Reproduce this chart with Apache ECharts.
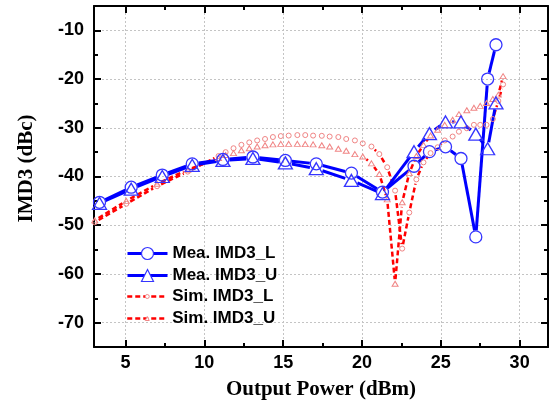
<!DOCTYPE html>
<html><head><meta charset="utf-8">
<script src="https://cdn.jsdelivr.net/npm/echarts@6/dist/echarts.min.js"></script>
<style>html,body{margin:0;padding:0;background:#fff}#c{width:552px;height:409px}</style>
</head><body><div id="c"></div>
<script>
// ---- data ----
const meaX = [3.35, 5.36, 7.33, 9.23, 11.18, 13.08, 15.14, 17.1, 19.33, 21.3, 23.3, 24.28, 25.3, 26.28, 27.22, 27.97, 28.5];
const meaL = [-45.3, -42.2, -39.7, -37.4, -36.5, -36.0, -36.7, -37.4, -39.3, -43.2, -37.9, -34.9, -33.9, -36.3, -52.4, -20.0, -12.95];
const meaU = [-45.5, -42.6, -40.0, -37.7, -36.7, -36.3, -37.2, -38.4, -40.8, -43.5, -34.9, -31.2, -28.8, -28.8, -31.3, -34.3, -24.9];
const simX = [3.05, 5.05, 7.0, 8.95, 10.9, 11.35, 11.85, 12.35, 12.85, 13.35, 13.85, 14.35, 14.85, 15.35, 15.9, 16.4, 16.9, 17.45, 17.95, 18.5, 19.0, 19.55, 20.05, 20.6, 21.1, 21.6, 22.1, 22.55, 23.0, 23.45, 23.9, 24.35, 24.8, 25.25, 25.75, 26.15, 26.65, 27.1, 27.5, 27.9, 28.3, 28.65, 28.95];
const simL = [-49.4, -45.6, -42.0, -39.0, -35.8, -35.0, -34.2, -33.5, -33.0, -32.6, -32.3, -31.9, -31.7, -31.6, -31.5, -31.5, -31.6, -31.65, -31.8, -31.9, -32.3, -32.6, -33.2, -33.85, -35.4, -38.1, -42.9, -54.8, -47.4, -40.6, -37.1, -35.2, -34.0, -32.6, -31.8, -30.8, -30.1, -29.4, -29.4, -29.4, -28.2, -24.5, -21.1];
const simU = [-49.0, -45.0, -41.5, -38.6, -36.2, -35.6, -35.2, -34.6, -34.2, -33.85, -33.6, -33.4, -33.3, -33.3, -33.3, -33.35, -33.4, -33.6, -33.85, -34.3, -34.7, -35.4, -35.9, -37.3, -39.5, -44.7, -62.0, -45.3, -39.3, -35.8, -33.5, -31.6, -30.4, -29.4, -28.35, -27.2, -26.4, -25.9, -25.5, -24.9, -24.1, -23.2, -19.4];
const xMajorTicks = [5, 10, 15, 20, 25, 30];
const xMinorTicks = [7.5, 12.5, 17.5, 22.5, 27.5];
const yMajorTicks = [-70, -60, -50, -40, -30, -20, -10];
const yMinorTicks = [-65, -55, -45, -35, -25, -15];
const seriesNames = ['Mea. IMD3_L', 'Mea. IMD3_U', 'Sim. IMD3_L', 'Sim. IMD3_U'];

// ---- styles ----
const BLUE = '#0000ff', BLUE_SYM = '#3535ff', RED = '#ff0000', PINK = '#f08585';
const X_MIN = 3, X_MAX = 31.8, Y_MIN = -75, Y_MAX = -5;
const tickFont = {color: '#000', fontFamily: 'Liberation Sans', fontWeight: 'bold', fontSize: 18};
const titleFont = {color: '#000', fontFamily: 'Liberation Serif', fontWeight: 'bold', fontSize: 21};
const legendFont = {color: '#000', fontFamily: 'Liberation Sans', fontWeight: 'bold', fontSize: 17, lineHeight: 17};
const axLine = {show: true, onZero: false, lineStyle: {color: '#000', width: 2}};
const tickStyle = {color: '#000', width: 2};

function pairs(xs, ys) { return xs.map((x, i) => [x, ys[i]]); }

// line drawn with a gap around each symbol
function gapLine(name, xs, ys, gap, stroke, width, dash) {
  const data = pairs(xs, ys);
  return {
    type: 'custom', name: name, data: data, clip: true, silent: true, z: 2,
    encode: {x: 0, y: 1},
    renderItem: function (params, api) {
      const i = params.dataIndex;
      if (i >= data.length - 1) return null;
      const p0 = api.coord([api.value(0), api.value(1)]);
      const p1 = api.coord(data[i + 1]);
      const dx = p1[0] - p0[0], dy = p1[1] - p0[1];
      const len = Math.sqrt(dx * dx + dy * dy);
      if (len <= 2 * gap + 0.5) return null;
      const ux = dx / len, uy = dy / len;
      return {
        type: 'line',
        shape: {x1: p0[0] + ux * gap, y1: p0[1] + uy * gap, x2: p1[0] - ux * gap, y2: p1[1] - uy * gap},
        style: {stroke: stroke, lineWidth: width, lineDash: dash, fill: null}
      };
    }
  };
}

function markSeries(name, xs, ys, symbol, size, border, bw) {
  return {
    type: 'line', name: name, data: pairs(xs, ys), z: 3,
    symbol: symbol, symbolSize: size, showSymbol: true,
    lineStyle: {opacity: 0, width: 0},
    itemStyle: {color: 'rgba(255,255,255,0)', borderColor: border, borderWidth: bw},
    emphasis: {disabled: true}
  };
}

function xAx(pos, ticks, len, major) {
  return {
    type: 'value', position: pos, min: X_MIN, max: X_MAX,
    axisLine: major ? axLine : {show: false},
    axisTick: {show: true, inside: true, length: len, lineStyle: tickStyle, customValues: ticks},
    axisLabel: (major && pos === 'bottom') ? Object.assign({customValues: ticks, margin: 7}, tickFont) : {show: false},
    splitLine: {show: false},
    name: (major && pos === 'bottom') ? 'Output Power (dBm)' : '',
    nameLocation: 'middle', nameGap: 32, nameTextStyle: titleFont
  };
}
function yAx(pos, ticks, len, major) {
  return {
    type: 'value', position: pos, min: Y_MIN, max: Y_MAX,
    axisLine: major ? axLine : {show: false},
    axisTick: {show: true, inside: true, length: len, lineStyle: tickStyle, customValues: ticks},
    axisLabel: (major && pos === 'left') ? Object.assign({customValues: ticks, margin: 10}, tickFont) : {show: false},
    splitLine: {show: false},
    name: (major && pos === 'left') ? 'IMD3 (dBc)' : '',
    nameLocation: 'middle', nameGap: 57, nameTextStyle: Object.assign({padding: [0, 0, 0, 16]}, titleFont)
  };
}

// dotted grid at the major ticks
const gridSeries = {
  type: 'line', name: 'grid', data: [], z: 0, silent: true,
  markLine: {
    z: 0, silent: true, symbol: 'none', animation: false,
    label: {show: false},
    lineStyle: {color: '#c4c4c4', width: 1, type: [2, 2]},
    emphasis: {disabled: true},
    data: xMajorTicks.map(v => ({xAxis: v})).concat(yMajorTicks.map(v => ({yAxis: v})))
  }
};

const chart = echarts.init(document.getElementById('c'), null, {renderer: 'canvas'});
chart.setOption({
  animation: false,
  backgroundColor: '#fff',
  grid: {left: 94, right: 4, top: 6, bottom: 62, containLabel: false},
  xAxis: [xAx('bottom', xMajorTicks, 7, true), xAx('bottom', xMinorTicks, 4, false),
          xAx('top', xMajorTicks, 7, true), xAx('top', xMinorTicks, 4, false)],
  yAxis: [yAx('left', yMajorTicks, 7, true), yAx('left', yMinorTicks, 4, false),
          yAx('right', yMajorTicks, 7, true), yAx('right', yMinorTicks, 4, false)],
  legend: [
    {
      orient: 'vertical', left: 126, top: 245, padding: 0, itemGap: 5, itemWidth: 40, itemHeight: 15, z: 10,
      textStyle: legendFont, selectedMode: false,
      data: [
        {name: seriesNames[0], itemStyle: {color: '#fff', borderColor: BLUE_SYM, borderWidth: 1.2}, lineStyle: {color: BLUE, width: 3, opacity: 1, type: 'solid'}},
        {name: seriesNames[1], itemStyle: {color: '#fff', borderColor: BLUE_SYM, borderWidth: 1.2}, lineStyle: {color: BLUE, width: 3, opacity: 1, type: 'solid'}}
      ]
    },
    {
      orient: 'vertical', left: 126, top: 288, padding: 0, itemGap: 5, itemWidth: 40, itemHeight: 5, z: 10,
      textStyle: legendFont, selectedMode: false,
      data: [
        {name: seriesNames[2], itemStyle: {color: '#fff', borderColor: PINK, borderWidth: 1}, lineStyle: {color: RED, width: 2.5, opacity: 1, type: [5, 3]}},
        {name: seriesNames[3], itemStyle: {color: '#fff', borderColor: PINK, borderWidth: 1}, lineStyle: {color: RED, width: 2.5, opacity: 1, type: [5, 3]}}
      ]
    }
  ],
  series: [
    gridSeries,
    gapLine('simL_line', simX, simL, 4.5, RED, 2.5, [5, 3]),
    gapLine('simU_line', simX, simU, 4.5, RED, 2.5, [5, 3]),
    gapLine('meaL_line', meaX, meaL, 6.5, BLUE, 3, null),
    gapLine('meaU_line', meaX, meaU, 6.5, BLUE, 3, null),
    markSeries(seriesNames[2], simX, simL, 'circle', 5, PINK, 1),
    markSeries(seriesNames[3], simX, simU, 'triangle', [6, 5], PINK, 1),
    markSeries(seriesNames[0], meaX, meaL, 'circle', 12, BLUE_SYM, 1.3),
    markSeries(seriesNames[1], meaX, meaU, 'triangle', [14, 12], BLUE_SYM, 1.3)
  ]
});
</script></body></html>
